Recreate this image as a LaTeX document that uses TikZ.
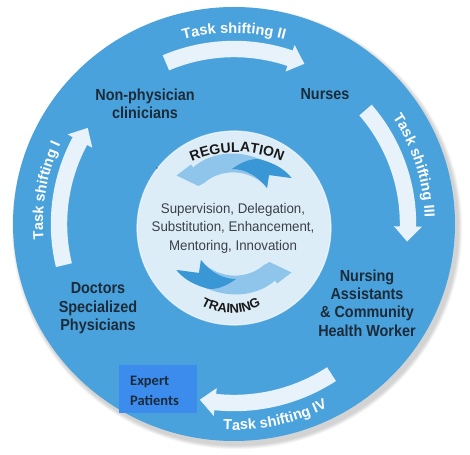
\documentclass[tikz,border=0pt]{standalone}
\usepackage{fontspec}
\setmainfont{Liberation Sans}
\newfontfamily\cfont[FakeStretch=0.9]{Liberation Sans}
\newfontfamily\mfont[FakeStretch=0.95]{Liberation Sans}
\newfontfamily\calib{Carlito}
\usetikzlibrary{decorations.text}
\definecolor{ringblue}{HTML}{4AA2DC}
\definecolor{innerlight}{HTML}{DDEDF8}
\definecolor{arrowwhite}{HTML}{E8F2FA}
\definecolor{swlight}{HTML}{8FC4EB}
\definecolor{swdark}{HTML}{3A97D6}
\definecolor{navytext}{HTML}{1C2B3A}
\definecolor{greytext}{HTML}{3B4048}
\definecolor{expertblue}{HTML}{3C8CEE}
\newcommand\tslab{\fontsize{14.6}{14.6}\selectfont\bfseries\color{white}}
\newcommand\inlab{\fontsize{14}{14}\selectfont\bfseries\color{black!90}}
\newcommand\ringarrow[3]{%
 \pgfmathsetmacro\arHa{#2+5}%
 \pgfmathsetmacro\arRo{#3+8.2}%
 \pgfmathsetmacro\arRi{#3-8.2}%
 \pgfmathsetmacro\arHo{#3+14}%
 \pgfmathsetmacro\arHi{#3-14}%
 \fill[arrowwhite] (#1:\arRo pt) arc[start angle=#1,end angle=\arHa,radius=\arRo pt]
   -- (\arHa:\arHo pt) -- (#2:#3pt) -- (\arHa:\arHi pt) -- (\arHa:\arRi pt)
   arc[start angle=\arHa,end angle=#1,radius=\arRi pt] -- cycle;}
\begin{document}
\begin{tikzpicture}[x=1pt,y=-1pt,
  role/.style={font=\fontsize{16}{18.4}\selectfont\cfont\bfseries, text=navytext, align=center, inner sep=0pt},
  mid/.style={font=\fontsize{14}{18.5}\selectfont\mfont, text=greytext, align=center, inner sep=0pt},
  expert/.style={font=\fontsize{14.5}{20.5}\selectfont\calib\bfseries, text=navytext, align=left, inner sep=0pt}]
\useasboundingbox (0,0) rectangle (470,454);
% soft shadow
\foreach \i in {1,...,6}
  \fill[black,opacity=0.03] (237,228) ellipse[x radius={221pt+\i*0.7pt}, y radius={217pt+\i*0.7pt}];
% outer disc
\fill[ringblue] (234,224) ellipse[x radius=221pt, y radius=217pt];
% inner disc
\fill[innerlight] (234,228) circle[radius=97pt];
\draw[white,opacity=0.6,line width=1.2pt] (234,228) circle[radius=97pt];
% ring arrows and labels
\begin{scope}[shift={(234,224)}]
  \ringarrow{193.6}{146.7}{175}
  \ringarrow{112.9}{66.3}{175}
  \ringarrow{40.9}{-5.8}{174}
  \ringarrow{-57}{-101}{179}
  \path[decorate,decoration={text along path,text align=center,text={|\tslab|Task shifting I}}]
    (200:191pt) arc[start angle=200,end angle=140,radius=191pt];
  \path[decorate,decoration={text along path,text align=center,text={|\tslab|Task shifting II}}]
    (115:191pt) arc[start angle=115,end angle=65,radius=191pt];
  \path[decorate,decoration={text along path,text align=center,text={|\tslab|Task shifting III}}]
    (48:191pt) arc[start angle=48,end angle=-12,radius=191pt];
  \path[decorate,decoration={text along path,text align=center,text={|\tslab|Task shifting IV}}]
    (-108:206pt) arc[start angle=-108,end angle=-48,radius=206pt];
\end{scope}
% inner swooshes
\newcommand\swoosh{%
  \fill[swlight] (176.5,175.5) -- (191,164.5) -- (193,167.5)
    .. controls (208,154) and (235,148) .. (262,160)
    .. controls (278,165) and (286,171) .. (291.5,178) -- (269,175) -- (267,188)
    .. controls (255,172) and (225,165) .. (204,183) -- (198.5,186) -- cycle;
  \fill[swdark] (232,169) .. controls (244,160) and (256,157) .. (264,160.5)
    .. controls (278,165) and (286,171) .. (291.5,178) -- (269,175) -- (267,188)
    .. controls (258,176) and (245,169) .. (232,169) -- cycle;}
\swoosh
\begin{scope}[rotate around={180:(234,224)}]
\swoosh
\end{scope}
\fill[black] (157,168) circle[radius=0.6pt];
% inner curved words
\begin{scope}[shift={(237,264)}]
  \path[decorate,decoration={text along path,text align=center,text={|\inlab|REGULATION}}]
    (130:112pt) arc[start angle=130,end angle=50,radius=112pt];
\end{scope}
\begin{scope}[shift={(231,253)}]
  \path[decorate,decoration={text along path,text align=center,text={|\fontsize{13}{13}\selectfont\bfseries\color{black!90}|TRAINING}}]
    (220:60pt) arc[start angle=220,end angle=320,radius=60pt];
\end{scope}
% centre text
\node[mid] (methods) at (233,228) {Supervision, Delegation,\\Substitution, Enhancement,\\Mentoring, Innovation};
% role labels
\node[role] (npc) at (145,104) {Non-physician\\clinicians};
\node[role] (nurses) at (325,94) {Nurses};
\node[role] (nacw) at (367,303) {Nursing\\Assistants\\\& Community\\Health Worker};
\node[role] (docs) at (98,308.5) {Doctors\\Specialized\\Physicians};
% expert patients
\fill[expertblue] (119,365) rectangle (197,413);
\node[expert,anchor=west] (expert) at (130,391) {Expert\\Patients};
\end{tikzpicture}
\end{document}
